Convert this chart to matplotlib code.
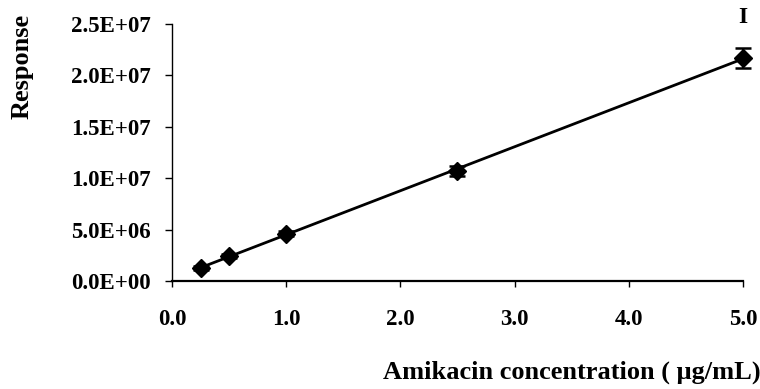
import matplotlib

matplotlib.use("Agg", force=True)
import matplotlib.pyplot as plt
import numpy as np

# calibration data
conc = [0.25, 0.5, 1.0, 2.5, 5.0]
response = [1.3e6, 2.4e6, 4.6e6, 1.07e7, 2.17e7]
resp_err = [2.0e5, 2.0e5, 2.5e5, 4.5e5, 9.5e5]
yticks = [0, 5e6, 1e7, 1.5e7, 2e7, 2.5e7]
ytick_labels = ["0.0E+00", "5.0E+06", "1.0E+07", "1.5E+07", "2.0E+07", "2.5E+07"]
xticks = [0, 1, 2, 3, 4, 5]
xtick_labels = ["0.0", "1.0", "2.0", "3.0", "4.0", "5.0"]

plt.rcParams["font.family"] = ["Liberation Serif", "DejaVu Serif"]
plt.rcParams["font.weight"] = "bold"

fig = plt.figure(figsize=(7.6, 3.89), dpi=100)
ax = fig.add_axes([0.2263, 0.2776, 0.7513, 0.6607])

slope, intercept = np.polyfit(conc, response, 1)
xs = np.array([conc[0], conc[-1]])
ax.plot(xs, slope * xs + intercept, color="black", linewidth=2.0, zorder=2)
ax.errorbar(conc, response, yerr=resp_err, fmt="D", color="black",
            markersize=9, capsize=6, elinewidth=1.5, capthick=1.8, zorder=3,
            clip_on=False)

ax.set_xlim(0, 5)
ax.set_ylim(0, 2.5e7)
ax.set_xticks(xticks)
ax.set_xticklabels(xtick_labels, fontsize=16.5, fontweight="bold")
ax.set_yticks(yticks)
ax.set_yticklabels(ytick_labels, fontsize=16.5, fontweight="bold")
ax.tick_params(axis="x", direction="out", length=4, width=1, pad=16)
ax.tick_params(axis="y", direction="out", length=5, width=1, pad=10)
for side in ("top", "right"):
    ax.spines[side].set_visible(False)
ax.spines["bottom"].set_linewidth(1.6)
ax.spines["left"].set_linewidth(1.0)

fig.text(0.752, 0.043, "Amikacin concentration ( μg/mL)", fontsize=19,
         fontweight="bold", ha="center", va="center")
fig.text(0.029, 0.83, "Response", fontsize=19, fontweight="bold",
         rotation=90, ha="center", va="center")
fig.text(0.977, 0.955, "I", fontsize=17, ha="center", va="center")

fig.savefig("out.png", dpi=100)
